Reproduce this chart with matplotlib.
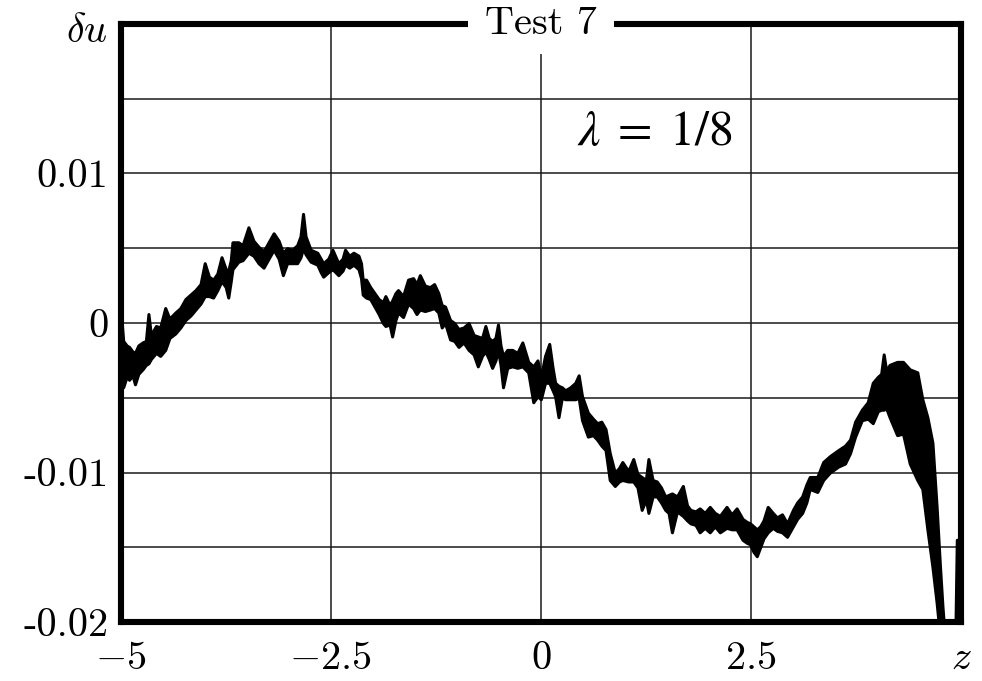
import matplotlib
matplotlib.use("Agg")
import matplotlib.pyplot as plt
from matplotlib.patches import Rectangle
import numpy as np

# envelope of the noisy curve (z, upper, lower)
z = [-5.00, -4.97, -4.93, -4.90, -4.86, -4.83, -4.79, -4.74, -4.70, -4.67,
     -4.64, -4.58, -4.53, -4.47, -4.42, -4.35, -4.29, -4.23, -4.17, -4.11,
     -4.05, -4.00, -3.95, -3.90, -3.85, -3.80, -3.75, -3.72, -3.69, -3.67,
     -3.60, -3.55, -3.48, -3.42, -3.36, -3.30, -3.24, -3.18, -3.12, -3.07,
     -3.02, -2.96, -2.90, -2.86, -2.83, -2.80, -2.74, -2.66, -2.62, -2.59,
     -2.53, -2.48, -2.41, -2.36, -2.33, -2.28, -2.23, -2.17, -2.14, -2.12,
     -2.08, -2.03, -1.98, -1.93, -1.88, -1.85, -1.80, -1.77, -1.73, -1.70,
     -1.64, -1.58, -1.52, -1.48, -1.44, -1.38, -1.32, -1.27, -1.22, -1.18,
     -1.14, -1.08, -1.03, -0.98, -0.92, -0.86, -0.80, -0.75, -0.70, -0.66,
     -0.62, -0.58, -0.54, -0.51, -0.48, -0.45, -0.40, -0.34, -0.28, -0.22,
     -0.15, -0.09, -0.04, 0.00, 0.05, 0.10, 0.14, 0.17, 0.21, 0.25,
     0.29, 0.35, 0.41, 0.45, 0.49, 0.56, 0.62, 0.67, 0.72, 0.77,
     0.82, 0.88, 0.93, 0.97, 1.04, 1.10, 1.15, 1.20, 1.25, 1.28,
     1.33, 1.38, 1.43, 1.48, 1.52, 1.56, 1.62, 1.69, 1.74, 1.78,
     1.84, 1.89, 1.95, 2.01, 2.07, 2.13, 2.21, 2.27, 2.33, 2.40,
     2.45, 2.49, 2.53, 2.57, 2.61, 2.65, 2.70, 2.76, 2.81, 2.87,
     2.93, 3.00, 3.05, 3.11, 3.16, 3.20, 3.29, 3.36, 3.44, 3.54,
     3.62, 3.68, 3.74, 3.82, 3.89, 3.95, 4.01, 4.05, 4.08, 4.11,
     4.15, 4.24, 4.31, 4.39, 4.48, 4.54, 4.60, 4.66, 4.71, 4.75,
     4.78, 4.82, 4.93, 4.95, 5.00]
du_upper = [0.0009, -0.0012, -0.0015, -0.0016, -0.0019, -0.0020, -0.0015, -0.0013, -0.0012, 0.0006,
            -0.0008, -0.0002, -0.0003, 0.0010, 0.0003, 0.0007, 0.0010, 0.0016, 0.0019, 0.0022,
            0.0026, 0.0040, 0.0031, 0.0029, 0.0033, 0.0044, 0.0036, 0.0035, 0.0042, 0.0054,
            0.0054, 0.0052, 0.0064, 0.0055, 0.0051, 0.0048, 0.0054, 0.0060, 0.0055, 0.0047,
            0.0050, 0.0049, 0.0052, 0.0058, 0.0073, 0.0058, 0.0049, 0.0047, 0.0043, 0.0040,
            0.0043, 0.0049, 0.0040, 0.0043, 0.0049, 0.0045, 0.0047, 0.0045, 0.0040, 0.0029,
            0.0029, 0.0024, 0.0020, 0.0016, 0.0014, 0.0018, 0.0012, 0.0015, 0.0020, 0.0022,
            0.0018, 0.0029, 0.0030, 0.0026, 0.0032, 0.0025, 0.0024, 0.0026, 0.0020, 0.0012,
            0.0011, 0.0002, 0.0000, -0.0004, -0.0003, 0.0000, -0.0008, -0.0009, -0.0010, -0.0002,
            -0.0010, -0.0012, -0.0010, -0.0001, -0.0015, -0.0022, -0.0018, -0.0018, -0.0020, -0.0013,
            -0.0026, -0.0029, -0.0025, -0.0036, -0.0022, -0.0014, -0.0030, -0.0040, -0.0042, -0.0043,
            -0.0045, -0.0043, -0.0040, -0.0035, -0.0049, -0.0060, -0.0064, -0.0067, -0.0066, -0.0071,
            -0.0087, -0.0100, -0.0097, -0.0093, -0.0099, -0.0091, -0.0101, -0.0103, -0.0105, -0.0091,
            -0.0105, -0.0106, -0.0110, -0.0116, -0.0115, -0.0114, -0.0116, -0.0109, -0.0122, -0.0125,
            -0.0126, -0.0124, -0.0127, -0.0123, -0.0127, -0.0129, -0.0123, -0.0128, -0.0124, -0.0131,
            -0.0133, -0.0134, -0.0136, -0.0138, -0.0136, -0.0132, -0.0123, -0.0127, -0.0130, -0.0128,
            -0.0134, -0.0125, -0.0120, -0.0116, -0.0108, -0.0103, -0.0103, -0.0093, -0.0089, -0.0085,
            -0.0082, -0.0078, -0.0066, -0.0058, -0.0053, -0.0040, -0.0036, -0.0034, -0.0021, -0.0032,
            -0.0028, -0.0026, -0.0026, -0.0031, -0.0033, -0.0051, -0.0063, -0.0080, -0.0123, -0.0163,
            -0.0190, -0.0220, -0.0220, -0.0145, -0.0145]
du_lower = [-0.0040, -0.0043, -0.0036, -0.0038, -0.0035, -0.0041, -0.0034, -0.0031, -0.0028, -0.0027,
            -0.0024, -0.0020, -0.0022, -0.0018, -0.0010, -0.0007, -0.0003, 0.0002, 0.0005, 0.0009,
            0.0013, 0.0018, 0.0018, 0.0017, 0.0022, 0.0028, 0.0024, 0.0017, 0.0028, 0.0036,
            0.0041, 0.0042, 0.0047, 0.0045, 0.0040, 0.0037, 0.0043, 0.0049, 0.0043, 0.0032,
            0.0040, 0.0040, 0.0040, 0.0044, 0.0050, 0.0046, 0.0041, 0.0039, 0.0034, 0.0031,
            0.0034, 0.0036, 0.0032, 0.0035, 0.0039, 0.0037, 0.0039, 0.0036, 0.0030, 0.0019,
            0.0017, 0.0016, 0.0011, 0.0006, 0.0000, -0.0002, -0.0001, -0.0009, 0.0002, 0.0007,
            0.0004, 0.0013, 0.0010, 0.0006, 0.0009, 0.0008, 0.0009, 0.0010, 0.0007, -0.0003,
            0.0000, -0.0011, -0.0012, -0.0016, -0.0013, -0.0018, -0.0021, -0.0029, -0.0022, -0.0019,
            -0.0024, -0.0030, -0.0025, -0.0018, -0.0028, -0.0043, -0.0030, -0.0029, -0.0030, -0.0029,
            -0.0033, -0.0053, -0.0049, -0.0051, -0.0040, -0.0040, -0.0045, -0.0049, -0.0063, -0.0050,
            -0.0051, -0.0051, -0.0051, -0.0050, -0.0065, -0.0076, -0.0075, -0.0078, -0.0082, -0.0085,
            -0.0105, -0.0109, -0.0106, -0.0105, -0.0106, -0.0106, -0.0110, -0.0125, -0.0118, -0.0127,
            -0.0116, -0.0116, -0.0120, -0.0125, -0.0127, -0.0140, -0.0126, -0.0129, -0.0132, -0.0134,
            -0.0135, -0.0140, -0.0137, -0.0140, -0.0136, -0.0140, -0.0137, -0.0138, -0.0138, -0.0145,
            -0.0147, -0.0148, -0.0153, -0.0156, -0.0150, -0.0144, -0.0140, -0.0137, -0.0139, -0.0140,
            -0.0143, -0.0136, -0.0131, -0.0127, -0.0120, -0.0111, -0.0113, -0.0105, -0.0100, -0.0096,
            -0.0094, -0.0087, -0.0076, -0.0065, -0.0064, -0.0067, -0.0059, -0.0058, -0.0058, -0.0057,
            -0.0063, -0.0075, -0.0074, -0.0094, -0.0105, -0.0111, -0.0138, -0.0163, -0.0187, -0.0210,
            -0.0230, -0.0240, -0.0240, -0.0240, -0.0240]

x_ticks = [-5, -2.5, 0, 2.5, 5]
x_labels = [r"$-5$", r"$-2.5$", r"$0$", r"$2.5$", r"$z$"]
y_ticks = [-0.02, -0.015, -0.01, -0.005, 0, 0.005, 0.01, 0.015, 0.02]
y_labels = ["-0.02", "", "-0.01", "", "0", "", "0.01", "", ""]

plt.rcParams["mathtext.fontset"] = "cm"
plt.rcParams["font.family"] = "cmr10"
FS = 29

fig = plt.figure(figsize=(9.82, 6.81), dpi=100)
ax = fig.add_axes([0.1229, 0.0866, 0.8557, 0.8782])

ax.fill_between(z, du_lower, du_upper, color="black", lw=2.2, zorder=3)

ax.set_xlim(-5, 5)
ax.set_ylim(-0.02, 0.02)
ax.set_xticks(x_ticks)
ax.set_xticklabels(x_labels, fontsize=FS)
ax.set_yticks(y_ticks)
ax.set_yticklabels(y_labels, fontsize=FS)
ax.tick_params(axis="x", length=0, pad=14)
ax.tick_params(axis="y", length=0, pad=9)
ax.grid(True, color="#1a1a1a", lw=1.1)
ax.set_axisbelow(True)
for s in ax.spines.values():
    s.set_linewidth(4.4)
    s.set_color("black")

# title sits on the top frame, hiding it
ax.add_patch(Rectangle((0.413, 0.95), 0.174, 0.1, transform=ax.transAxes,
                       facecolor="white", edgecolor="none", clip_on=False, zorder=5))
ax.text(0.5, 1.0, "Test 7", transform=ax.transAxes, ha="center", va="center",
        fontsize=FS, zorder=6)

ax.text(-0.015, 0.987, r"$\delta u$", transform=ax.transAxes, ha="right", va="center",
        fontsize=FS)
ax.text(0.636, 0.82, r"$\lambda\;=\;1/8$", transform=ax.transAxes, ha="center", va="center",
        fontsize=36, math_fontfamily="stix")

plt.savefig("out.png", dpi=100, facecolor="white")
plt.close()
